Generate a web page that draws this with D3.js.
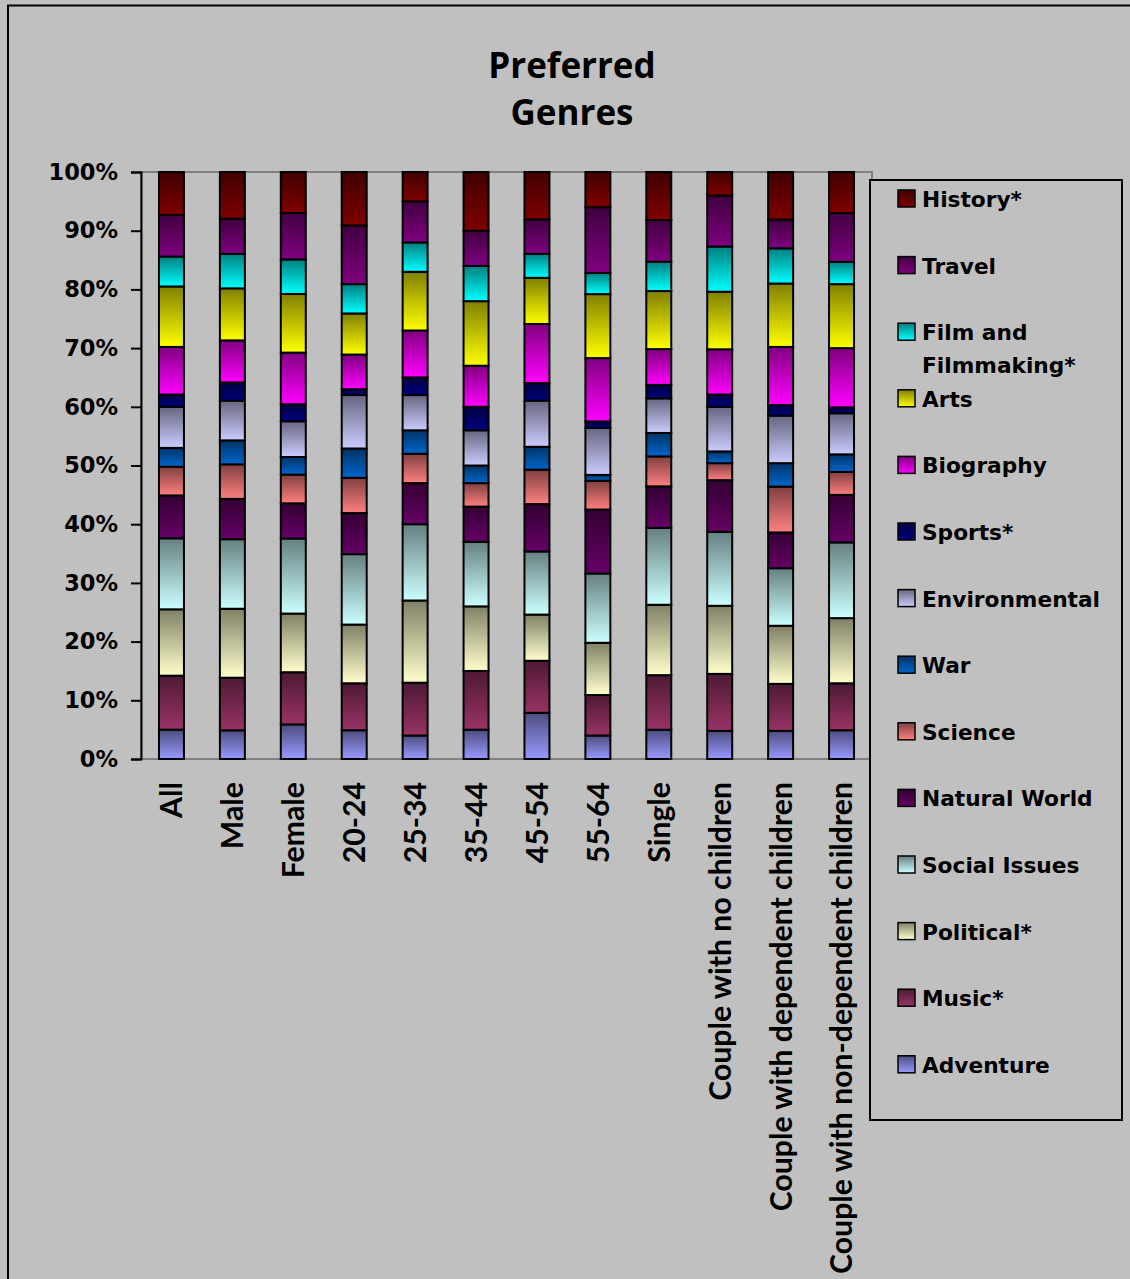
<!DOCTYPE html>
<html><head><meta charset="utf-8">
<script src="https://cdn.jsdelivr.net/npm/d3@7/dist/d3.min.js"></script>
<style>body{margin:0;background:#c0c0c0;} svg{display:block}</style>
</head><body>
<svg id="chart" width="1130" height="1279"></svg>
<script>
// ---- data ----
const categories = ["All","Male","Female","20-24","25-34","35-44","45-54","55-64","Single",
  "Couple with no children","Couple with dependent children","Couple with non-dependent children"];
const seriesNames = ["Adventure","Music*","Political*","Social Issues","Natural World","Science","War",
  "Environmental","Sports*","Biography","Arts","Film and Filmmaking*","Travel","History*"];
const adventure     = [5.0, 4.9, 5.9, 4.9, 4.0, 5.0, 7.9, 4.0, 5.0, 4.8, 4.8, 4.9];
const music         = [9.2, 9.0, 8.9, 8.0, 9.0,10.0, 8.9, 6.9, 9.3, 9.7, 8.0, 8.0];
const political     = [11.3,11.8,10.0,10.0,14.0,11.0, 7.9, 8.9,12.0,11.6, 9.9,11.1];
const socialIssues  = [12.1,11.9,12.8,12.0,13.0,11.0,10.8,11.8,13.1,12.6, 9.8,12.9];
const naturalWorld  = [7.3, 6.9, 6.0, 7.0, 7.0, 6.0, 8.1,10.9, 7.1, 8.8, 6.1, 8.1];
const science       = [4.9, 5.9, 4.9, 6.0, 5.0, 4.0, 5.9, 4.9, 5.1, 2.9, 7.8, 3.9];
const war           = [3.2, 4.1, 3.0, 5.0, 4.0, 3.0, 3.9, 1.0, 4.0, 2.0, 4.0, 3.0];
const environmental = [7.0, 6.8, 6.1, 9.1, 6.0, 6.0, 7.9, 8.0, 5.9, 7.6, 8.1, 7.0];
const sports        = [2.1, 3.1, 2.9, 1.0, 3.0, 4.0, 3.0, 1.1, 2.3, 2.1, 1.8, 1.0];
const biography     = [8.1, 7.2, 8.8, 5.9, 8.0, 7.0,10.1,10.8, 6.1, 7.7, 9.9,10.1];
const arts          = [10.3, 8.9,10.0, 7.0,10.0,11.0, 7.9,10.9, 9.9, 9.8,10.8,10.9];
const film          = [5.1, 5.9, 5.9, 5.0, 5.0, 6.0, 4.1, 3.6, 5.0, 7.7, 6.0, 3.8];
const travel        = [7.1, 6.0, 7.9,10.0, 7.0, 6.0, 5.9,11.2, 7.1, 8.7, 4.9, 8.3];
const history       = [7.3, 8.0, 7.0, 9.1, 5.0,10.0, 8.1, 6.0, 8.2, 4.0, 8.1, 7.0];
const seriesValues = [adventure,music,political,socialIssues,naturalWorld,science,war,
  environmental,sports,biography,arts,film,travel,history];
const seriesColors = ["#9999FF","#993366","#FFFFCC","#CCFFFF","#660066","#FF8080","#0066CC",
  "#CCCCFF","#000080","#FF00FF","#FFFF00","#00FFFF","#800080","#800000"];
const yTickValues = [0,0.1,0.2,0.3,0.4,0.5,0.6,0.7,0.8,0.9,1.0];
const titleLines = ["Preferred","Genres"];

(function(){
// ---- build ----
const rows = categories.map((c,i)=>{
  const r = {category:c};
  seriesNames.forEach((s,j)=>{ r[s] = seriesValues[j][i]; });
  return r;
});
const stack = d3.stack().keys(seriesNames).offset(d3.stackOffsetExpand);
const layers = stack(rows);

const svg = d3.select("#chart");
const pl = 141, pr = 872, pt = 172, pb = 759;

// outer frame
svg.append("rect").attr("x",8).attr("y",5.5).attr("width",1200).attr("height",1400)
  .attr("fill","#c0c0c0").attr("stroke","#000").attr("stroke-width",2);

const defs = svg.append("defs");
seriesNames.forEach((s,i)=>{
  const g = defs.append("linearGradient").attr("id","g"+i)
    .attr("x1",0).attr("y1",0).attr("x2",0).attr("y2",1);
  const c = d3.rgb(seriesColors[i]);
  const dark = d3.rgb(c.r*0.5,c.g*0.5,c.b*0.5);
  g.append("stop").attr("offset","0%").attr("stop-color",dark.formatHex());
  g.append("stop").attr("offset","100%").attr("stop-color",c.formatHex());
});

const x = d3.scaleBand().domain(categories).range([pl,pr]).paddingInner(0.59).paddingOuter(0.295);
const y = d3.scaleLinear().domain([0,1]).range([pb,pt]);

// plot area border
svg.append("rect").attr("x",pl).attr("y",pt).attr("width",pr-pl).attr("height",pb-pt)
  .attr("fill","none").attr("stroke","#808080").attr("stroke-width",2);

// bars
svg.append("g").selectAll("g").data(layers).join("g")
  .attr("fill",(d,i)=>`url(#g${i})`)
  .selectAll("rect").data(d=>d).join("rect")
  .attr("x",d=>x(d.data.category))
  .attr("width",x.bandwidth())
  .attr("y",d=>y(d[1]))
  .attr("height",d=>y(d[0])-y(d[1]))
  .attr("stroke","#000").attr("stroke-width",2);

// y axis
const ya = svg.append("g").attr("transform",`translate(${pl},0)`)
  .call(d3.axisLeft(y).tickValues(yTickValues).tickFormat(d3.format(".0%")).tickSize(10).tickPadding(13));
ya.select(".domain").attr("stroke","#000").attr("stroke-width",2);
ya.selectAll(".tick line").attr("stroke","#000").attr("stroke-width",2);
ya.selectAll("text").attr("font-family","DejaVu Sans").attr("font-weight","bold")
  .attr("font-size","22.5px").attr("fill","#000");

// x axis labels
const xa = svg.append("g").attr("transform",`translate(0,${pb})`)
  .call(d3.axisBottom(x).tickSize(0).tickPadding(0));
xa.select(".domain").remove();
const xt = xa.selectAll("text").attr("font-family","Lato").attr("font-weight","bold")
  .attr("font-size","30px").attr("fill","#000")
  .attr("transform","rotate(-90)").attr("text-anchor","end")
  .attr("x",-23).attr("y",0).attr("dy","0.36em");
let maxLen = 0; xt.each(function(){ maxLen = Math.max(maxLen,this.getComputedTextLength()); });
xt.attr("font-size",(30*492/maxLen).toFixed(2)+"px");

// title
svg.append("g").selectAll("text").data(titleLines).join("text")
  .attr("x",572).attr("y",(d,i)=>78+i*47).attr("text-anchor","middle")
  .attr("font-family","Open Sans").attr("font-weight","bold").attr("font-size","35px")
  .attr("fill","#000").text(d=>d);

// legend
const lg = svg.append("g");
lg.append("rect").attr("x",870).attr("y",180).attr("width",252).attr("height",940)
  .attr("fill","#c0c0c0").attr("stroke","#000").attr("stroke-width",2);
const legendOrder = seriesNames.map((s,i)=>i).reverse();
const item = lg.selectAll("g.item").data(legendOrder).join("g").attr("class","item")
  .attr("transform",(d,k)=>`translate(0,${207+k*66.6})`);
item.append("rect").attr("x",898).attr("y",-17).attr("width",17).attr("height",17)
  .attr("fill",d=>`url(#g${d})`).attr("stroke","#000").attr("stroke-width",1.5);
item.append("text").attr("x",922).attr("y",0)
  .attr("font-family","DejaVu Sans").attr("font-weight","bold").attr("font-size","21.7px").attr("fill","#000")
  .each(function(d){
    const name = seriesNames[d];
    const t = d3.select(this);
    if(name==="Film and Filmmaking*"){
      t.append("tspan").attr("x",922).attr("dy",0).text("Film and");
      t.append("tspan").attr("x",922).attr("dy",33).text("Filmmaking*");
    } else t.text(name);
  });
})();
</script>
</body></html>
